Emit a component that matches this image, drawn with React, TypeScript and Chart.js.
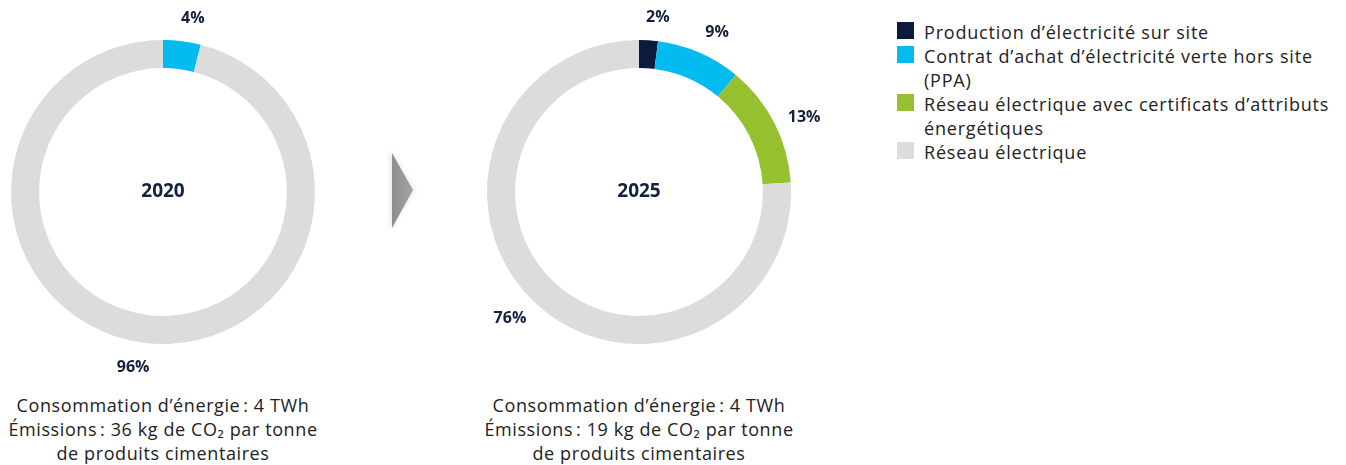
import React, { useEffect, useRef } from "react";
import { Chart, registerables } from "chart.js";

Chart.register(...registerables);

const categories = [
  "Production d’électricité sur site",
  "Contrat d’achat d’électricité verte hors site (PPA)",
  "Réseau électrique avec certificats d’attributs énergétiques",
  "Réseau électrique",
];
const colors = ["#0c1a3c", "#04bbf0", "#95c12f", "#dcdcdc"];
const years = ["2020", "2025"];
const values2020 = [0, 4, 0, 96];
const values2025 = [2, 9, 13, 76];
const captions2020 = [
  "Consommation d’énergie\u202F: 4 TWh",
  "Émissions\u202F: 36 kg de CO₂ par tonne",
  "de produits cimentaires",
];
const captions2025 = [
  "Consommation d’énergie\u202F: 4 TWh",
  "Émissions\u202F: 19 kg de CO₂ par tonne",
  "de produits cimentaires",
];

const FONT = "'Open Sans', Roboto, sans-serif";
const NAVY = "#13213f";

const labelPlugin = {
  id: "outerLabels",
  afterDatasetsDraw(chart: any) {
    const ctx = chart.ctx;
    const meta = chart.getDatasetMeta(0);
    const data = chart.data.datasets[0].data as number[];
    ctx.save();
    ctx.font = `bold 16px ${FONT}`;
    ctx.fillStyle = NAVY;
    ctx.textAlign = "center";
    ctx.textBaseline = "middle";
    meta.data.forEach((arc: any, i: number) => {
      const v = data[i];
      if (!v) return;
      const p = arc.getProps(["x", "y", "startAngle", "endAngle", "outerRadius"], true);
      const mid = (p.startAngle + p.endAngle) / 2 + (2.5 * Math.PI) / 180;
      const txt = `${v}%`;
      const c = Math.cos(mid);
      const s = Math.sin(mid);
      const r = p.outerRadius + 24 + Math.abs(c) * 6;
      const x = p.x + c * r;
      const y = p.y + s * r + 1;
      ctx.fillText(txt, x, y);
    });
    ctx.restore();
  },
};

const centerPlugin = {
  id: "centerText",
  afterDraw(chart: any) {
    const ctx = chart.ctx;
    const meta = chart.getDatasetMeta(0);
    const arc = meta.data[0];
    if (!arc) return;
    ctx.save();
    ctx.font = `bold 19px ${FONT}`;
    ctx.fillStyle = NAVY;
    ctx.textAlign = "center";
    ctx.textBaseline = "middle";
    ctx.fillText(chart.options.plugins.centerText.text, arc.x, arc.y);
    ctx.restore();
  },
};

function Donut(props: { values: number[]; year: string; width: number; height: number; padX: number; padY: number }) {
  const ref = useRef<HTMLCanvasElement>(null);
  useEffect(() => {
    if (!ref.current) return;
    const chart = new Chart(ref.current, {
      type: "doughnut",
      data: {
        labels: categories,
        datasets: [
          {
            data: props.values,
            backgroundColor: colors,
            borderWidth: 0,
          },
        ],
      },
      options: {
        animation: false,
        responsive: false,
        cutout: "81.5%",
        layout: { padding: { left: props.padX, right: props.padX, top: props.padY, bottom: props.padY } },
        plugins: {
          legend: { display: false },
          tooltip: { enabled: false },
          centerText: { text: props.year },
        } as any,
      },
      plugins: [labelPlugin, centerPlugin],
    });
    return () => chart.destroy();
  }, []);
  return <canvas ref={ref} width={props.width} height={props.height} style={{ width: props.width, height: props.height, display: "block" }} />;
}

function Caption(props: { lines: string[]; cx: number }) {
  return (
    <div
      style={{
        position: "absolute",
        left: props.cx - 200,
        top: 393,
        width: 400,
        textAlign: "center",
        font: `18px ${FONT}`,
        letterSpacing: "0.6px",
        lineHeight: "24px",
        color: "#222",
      }}
    >
      {props.lines.map((l, i) => (
        <div key={i}>{l}</div>
      ))}
    </div>
  );
}

export default function App() {
  useEffect(() => {
    document.body.style.margin = "0";
  }, []);
  return (
    <div style={{ position: "relative", width: 1346, height: 465, background: "#fff", overflow: "hidden" }}>
      <div style={{ position: "absolute", left: -37, top: 0 }}>
        <Donut values={values2020} year={years[0]} width={400} height={384} padX={48} padY={40} />
      </div>
      <div style={{ position: "absolute", left: 439, top: 0 }}>
        <Donut values={values2025} year={years[1]} width={400} height={384} padX={48} padY={40} />
      </div>
      <svg style={{ position: "absolute", left: 380, top: 140 }} width={50} height={110}>
        <defs>
          <linearGradient id="ag" x1="0" y1="0" x2="1" y2="0">
            <stop offset="0" stopColor="#8e8e8e" />
            <stop offset="1" stopColor="#a4a4a4" />
          </linearGradient>
          <filter id="sh" x="-50%" y="-50%" width="200%" height="200%">
            <feGaussianBlur stdDeviation="2.5" />
          </filter>
        </defs>
        <polygon points="10,10 35,50 10,90" fill="#d8d8d8" filter="url(#sh)" opacity="0.6" />
        <polygon points="12,13 33,50 12,88" fill="url(#ag)" />
      </svg>
      <Caption lines={captions2020} cx={163} />
      <Caption lines={captions2025} cx={639} />
      <div style={{ position: "absolute", left: 897, top: 20, width: 440, font: `18px ${FONT}`, letterSpacing: "0.8px", lineHeight: "24px", color: "#222" }}>
        {categories.map((c, i) => (
          <div key={i} style={{ display: "flex", alignItems: "flex-start" }}>
            <div style={{ width: 17, height: 17, marginTop: 2, background: colors[i], flex: "0 0 17px" }} />
            <div style={{ marginLeft: 10, width: 420 }}>{c}</div>
          </div>
        ))}
      </div>
    </div>
  );
}
